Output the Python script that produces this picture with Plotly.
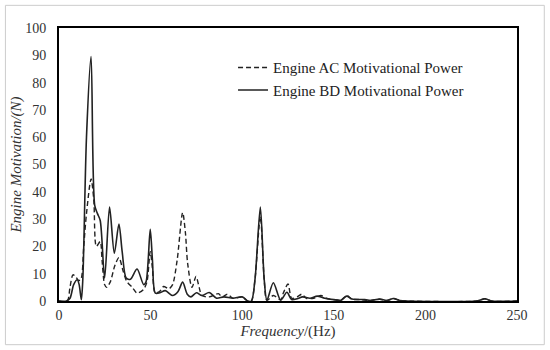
import plotly.graph_objects as go

# Engine BD (solid)
bd_freq = [0, 4, 6, 8, 10, 11, 12.2, 13, 15, 17.5, 19.5, 21, 22.5, 24.9, 27.6, 30.2, 32.7, 34.5, 36.7, 39,
           42.6, 46.2, 47.5, 49.8, 51, 52.6, 55, 58, 62, 65, 67.5, 70, 72, 75, 78, 82, 86, 90, 95, 100,
           103, 105, 107, 109.9, 112, 113.5, 117, 121, 124.4, 127, 130, 133, 137, 141, 145, 150, 154,
           157, 160, 167, 170, 175, 179, 182.5, 186, 190, 228, 232.5, 236, 250]
bd_vals = [0, 0, 1, 6, 7.8, 6, 0.5, 8, 60, 89.5, 35, 32, 29.5, 8.4, 34.4, 17.5, 28.2, 18, 8.4, 8,
           11.7, 6, 7, 26.3, 15, 2.9, 3, 3.8, 2, 3.5, 6.9, 2.5, 1.5, 3, 2, 3.1, 1, 1.5, 1, 1.5,
           0, 0, 8, 34.4, 8, 0.3, 6.7, 0.3, 3.2, 0.5, 0.8, 1.5, 1, 1.8, 1, 0.5, 0.3,
           1.8, 0.7, 0.5, 0.2, 0.7, 0.2, 0.9, 0.2, 0, 0, 0.8, 0, 0]

# Engine AC (dashed)
ac_freq = [0, 4.5, 6, 7.6, 9, 10.7, 12, 13.5, 15, 17.5, 19, 20.4, 22.5, 23.5, 24.9, 26, 28, 30.5, 32.7,
           35, 37, 40, 42.6, 46, 48, 49.8, 51, 52.5, 55, 57.1, 60, 62, 64.5, 67.5, 69, 70.2, 72.6,
           74.8, 76.5, 78, 82, 87, 89, 92, 95, 100, 103, 105, 107, 109.9, 112, 113.5, 117, 121,
           122.5, 125, 127, 130, 132.6, 135, 139, 143, 146, 150, 154, 157, 160, 165, 170, 175, 179,
           182.5, 186, 190, 228, 232.5, 236, 250]
ac_vals = [0, 0, 5, 9.6, 9, 7.5, 8, 20, 32, 44.7, 37, 20, 21.8, 15, 6, 5, 7, 13, 15.9,
           11, 7.2, 5, 2.9, 4.1, 7, 18.1, 12, 3, 3.5, 5.3, 4.5, 6, 15, 32.4, 25, 13.9, 5,
           9, 5, 2, 1.5, 2.7, 1.5, 2.5, 1, 1.5, 0, 0, 8, 31, 8, 0.3, 2, 0.5,
           3, 6.2, 1, 1.5, 2.5, 1, 1, 2, 1, 0.5, 0.3, 2, 0.7, 0.5, 0.2, 0.7, 0.2,
           0.9, 0.2, 0, 0, 0.8, 0, 0]

x_ticks = [0, 50, 100, 150, 200, 250]
y_ticks = [0, 10, 20, 30, 40, 50, 60, 70, 80, 90, 100]

serif = "Liberation Serif, Times New Roman, serif"

fig = go.Figure()
fig.add_trace(go.Scatter(x=ac_freq, y=ac_vals, mode="lines", name="Engine AC Motivational Power",
                         line=dict(color="#222", width=1.4, dash="5px,3px", shape="spline", smoothing=0.8)))
fig.add_trace(go.Scatter(x=bd_freq, y=bd_vals, mode="lines", name="Engine BD Motivational Power",
                         line=dict(color="#222", width=1.6, shape="spline", smoothing=0.8)))

fig.update_layout(
    width=550, height=350,
    margin=dict(l=59, r=33, t=28, b=49, autoexpand=False),
    plot_bgcolor="white", paper_bgcolor="white",
    showlegend=True,
    legend=dict(x=0.38, y=0.915, xanchor="left", yanchor="top", bgcolor="rgba(0,0,0,0)",
                font=dict(family=serif, size=15, color="#222"), tracegroupgap=0, itemwidth=30),
    xaxis=dict(range=[0, 250], tickvals=x_ticks, showgrid=False, zeroline=False, automargin=False,
               showline=True, linecolor="black", linewidth=2, mirror=True,
               ticks="", tickfont=dict(family=serif, size=14, color="#333"),
               title=dict(text="<i>Frequency</i>/(Hz)", font=dict(family=serif, size=15, color="#333"), standoff=4)),
    yaxis=dict(range=[0, 100], tickvals=y_ticks, showgrid=False, zeroline=False, automargin=False,
               showline=True, linecolor="black", linewidth=2, mirror=True,
               ticks="", ticklabelstandoff=8, tickfont=dict(family=serif, size=14, color="#333"),
               title=dict(text="<i>Engine Motivation/(N)</i>", font=dict(family=serif, size=15, color="#333"), standoff=0)),
    shapes=[dict(type="rect", xref="paper", yref="paper", x0=-0.117, x1=1.0596, y0=-0.16, y1=1.083,
                 line=dict(color="#ccc", width=1), layer="below")],
)

fig.write_html("out.html", config={"displayModeBar": False},
               post_script="document.body.style.margin='0px';")
